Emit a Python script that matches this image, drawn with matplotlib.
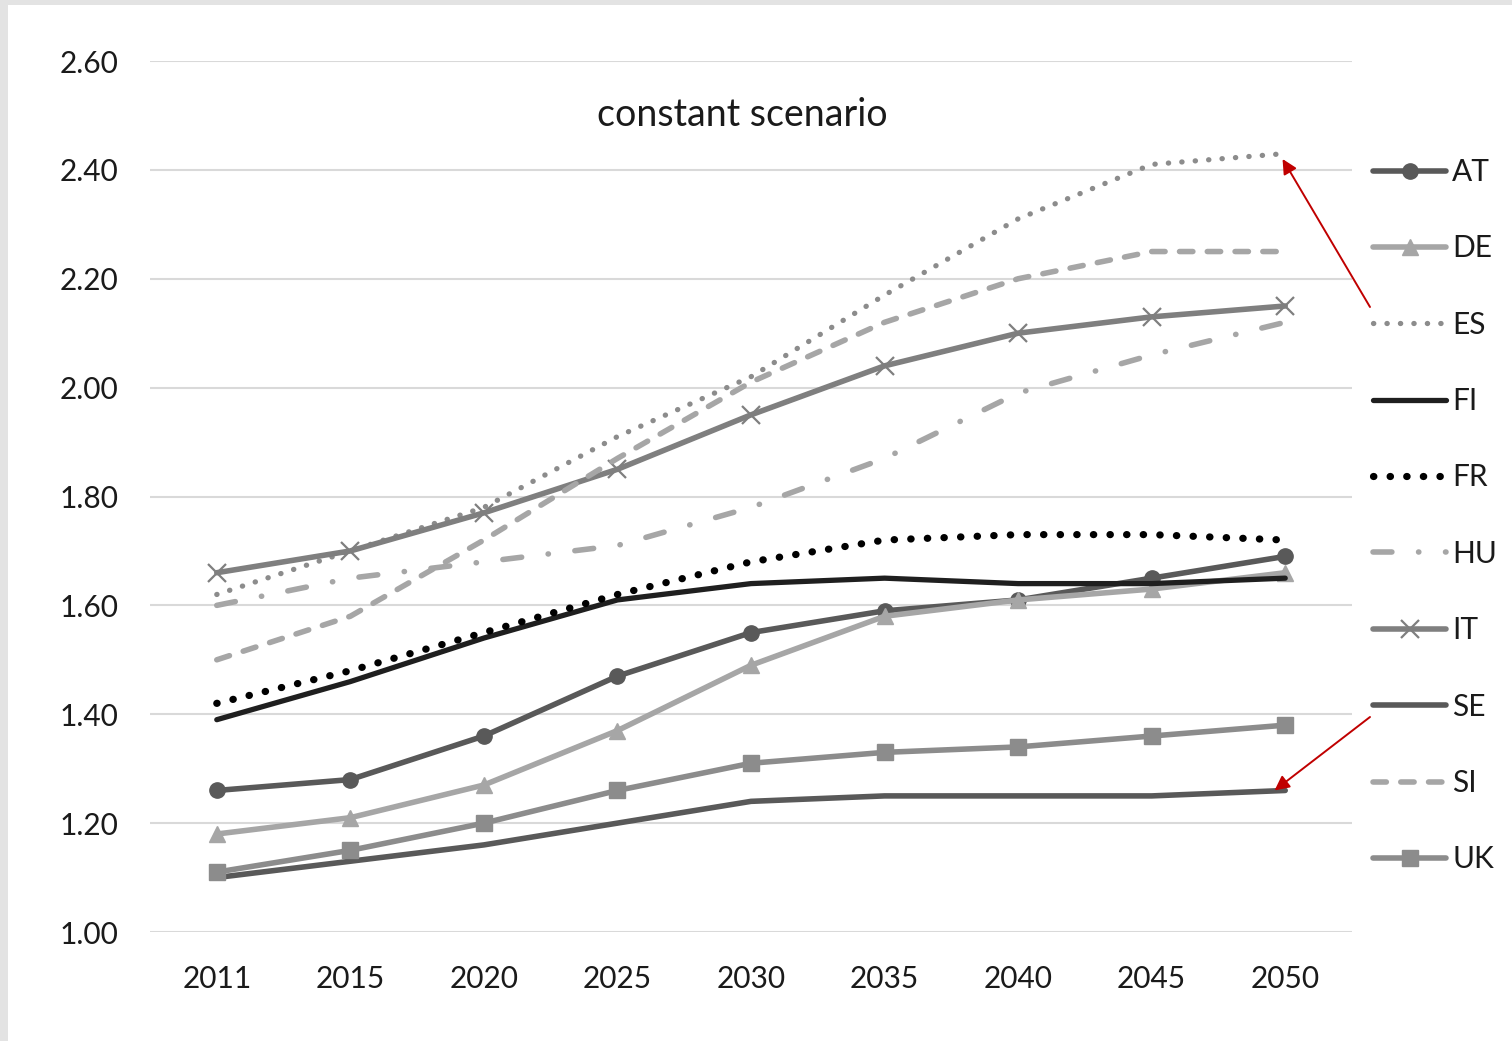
import matplotlib
matplotlib.use("Agg")
import matplotlib.pyplot as plt
from matplotlib.patches import Rectangle

years = ["2011", "2015", "2020", "2025", "2030", "2035", "2040", "2045", "2050"]
AT = [1.26, 1.28, 1.36, 1.47, 1.55, 1.59, 1.61, 1.65, 1.69]
DE = [1.18, 1.21, 1.27, 1.37, 1.49, 1.58, 1.61, 1.63, 1.66]
ES = [1.62, 1.70, 1.78, 1.91, 2.02, 2.17, 2.31, 2.41, 2.43]
FI = [1.39, 1.46, 1.54, 1.61, 1.64, 1.65, 1.64, 1.64, 1.65]
FR = [1.42, 1.48, 1.55, 1.62, 1.68, 1.72, 1.73, 1.73, 1.72]
HU = [1.60, 1.65, 1.68, 1.71, 1.78, 1.87, 1.99, 2.06, 2.12]
IT = [1.66, 1.70, 1.77, 1.85, 1.95, 2.04, 2.10, 2.13, 2.15]
SE = [1.10, 1.13, 1.16, 1.20, 1.24, 1.25, 1.25, 1.25, 1.26]
SI = [1.50, 1.58, 1.72, 1.87, 2.01, 2.12, 2.20, 2.25, 2.25]
UK = [1.11, 1.15, 1.20, 1.26, 1.31, 1.33, 1.34, 1.36, 1.38]
yticks = [1.00, 1.20, 1.40, 1.60, 1.80, 2.00, 2.20, 2.40, 2.60]
title = "constant scenario"

plt.rcParams['font.family'] = ['Lato', 'DejaVu Sans']

W, H = 1512, 1041
fig = plt.figure(figsize=(W / 100, H / 100), dpi=100)
fig.patch.set_facecolor('#e3e3e3')
fig.add_artist(Rectangle((8 / W, 0), 1, 1 - 5 / H, transform=fig.transFigure,
                         facecolor='white', edgecolor='none', zorder=-10))

ax = fig.add_axes([150 / W, 1 - 932 / H, (1352 - 150) / W, (932 - 61) / H])
ax.set_facecolor('none')
x = list(range(len(years)))

series = [
    ("AT", AT, dict(color='#595959', lw=4.0, marker='o', ms=11)),
    ("DE", DE, dict(color='#a6a6a6', lw=4.0, marker='^', ms=11)),
    ("ES", ES, dict(color='#8c8c8c', lw=3.8, linestyle=(0, (0.05, 2.5)), dash_capstyle='round')),
    ("FI", FI, dict(color='#1f1f1f', lw=3.8)),
    ("FR", FR, dict(color='#000000', lw=5.2, linestyle=(0, (0.05, 2.25)), dash_capstyle='round')),
    ("HU", HU, dict(color='#a6a6a6', lw=4.0, linestyle=(0, (3.4, 4.8, 0.05, 4.8)), dash_capstyle='round')),
    ("IT", IT, dict(color='#7f7f7f', lw=4.0, marker='x', ms=13, mew=1.6)),
    ("SE", SE, dict(color='#595959', lw=4.0)),
    ("SI", SI, dict(color='#a6a6a6', lw=4.0, linestyle=(0, (2.4, 2.6)), dash_capstyle='round')),
    ("UK", UK, dict(color='#8c8c8c', lw=4.0, marker='s', ms=11)),
]
for name, vals, st in series:
    ax.plot(x, vals, label=name, solid_capstyle='round', **st)

ax.set_xlim(-0.5, len(years) - 0.5)
ax.set_ylim(1.0, 2.6)
ax.set_yticks(yticks)
ax.set_yticklabels([f"{v:.2f}" for v in yticks])
ax.set_xticks(x)
ax.set_xticklabels(years)
ax.grid(axis='y', color='#d9d9d9', lw=1.5)
ax.set_axisbelow(True)
for s in ax.spines.values():
    s.set_visible(False)
ax.tick_params(length=0, labelsize=21.5, colors='#1a1a1a')
ax.tick_params(axis='y', pad=23)
ax.tick_params(axis='x', pad=24)

ax.text(0.493, 0.938, title, transform=ax.transAxes, ha='center', va='center',
        fontsize=27, color='#1a1a1a')

leg = fig.legend(loc='upper left', bbox_to_anchor=(1373 / W, 1 - 158 / H),
                 frameon=False, fontsize=21.5, handlelength=2.45, handletextpad=0.2,
                 labelspacing=1.62, borderaxespad=0, borderpad=0)
for t in leg.get_texts():
    t.set_color('#1a1a1a')

arrow = dict(arrowstyle='-|>', color='#c00000', lw=1.4, mutation_scale=22,
             shrinkA=0, shrinkB=0)
ax.annotate('', xy=(7.98, 2.42), xycoords='data',
            xytext=(1370 / W, 1 - 307 / H), textcoords='figure fraction', arrowprops=arrow)
ax.annotate('', xy=(7.92, 1.26), xycoords='data',
            xytext=(1370 / W, 1 - 717 / H), textcoords='figure fraction', arrowprops=arrow)

fig.savefig('out.png', dpi=100)
